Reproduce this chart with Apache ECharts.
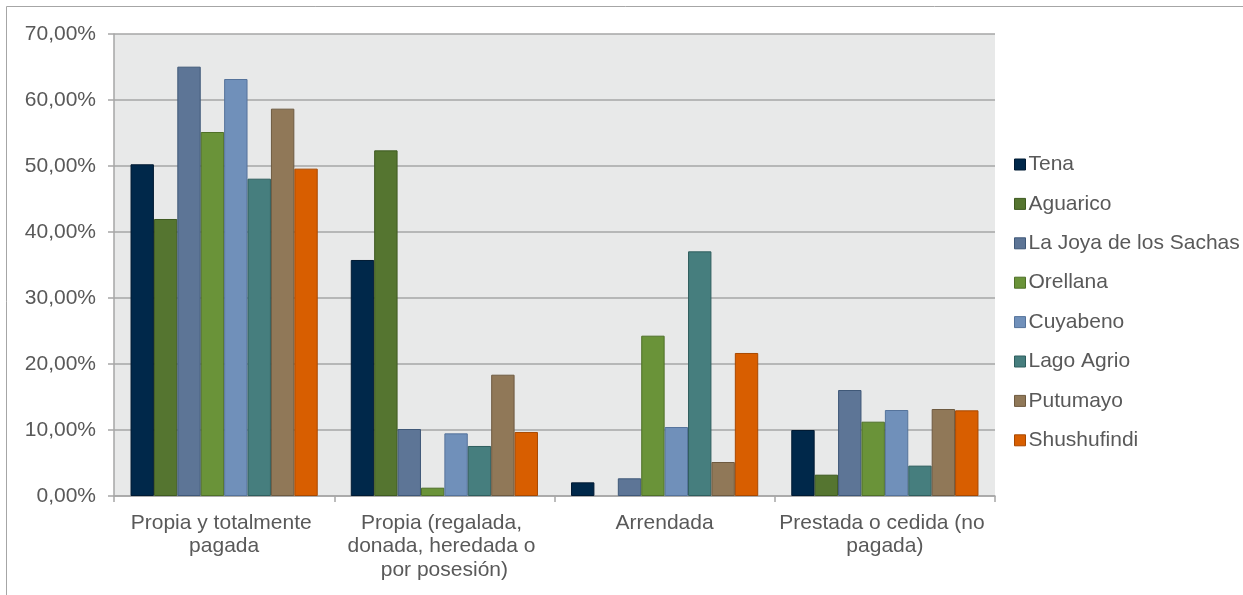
<!DOCTYPE html>
<html>
<head>
<meta charset="utf-8">
<script src="https://cdn.jsdelivr.net/npm/echarts@6/dist/echarts.min.js"></script>
<style>
html,body{margin:0;padding:0;background:#fff;}
#c{width:1243px;height:595px;}
</style>
</head>
<body>
<div id="c"></div>
<script>
var categories = ["Propia y totalmente pagada", "Propia (regalada, donada, heredada o por posesión)", "Arrendada", "Prestada o cedida (no pagada)"];
var seriesNames = ["Tena", "Aguarico", "La Joya de los Sachas", "Orellana", "Cuyabeno", "Lago Agrio", "Putumayo", "Shushufindi"];
var tena = [50.26, 35.76, 2.07, 10.00];
var aguarico = [41.97, 52.37, null, 3.23];
var laJoya = [65.05, 10.15, 2.68, 16.06];
var orellana = [55.15, 1.26, 24.29, 11.26];
var cuyabeno = [63.18, 9.49, 10.45, 13.03];
var lagoAgrio = [48.08, 7.58, 37.07, 4.60];
var putumayo = [58.69, 18.38, 5.15, 13.18];
var shushufindi = [49.60, 9.70, 21.67, 12.98];
var yTicks = [0, 10, 20, 30, 40, 50, 60, 70];

var values = [tena, aguarico, laJoya, orellana, cuyabeno, lagoAgrio, putumayo, shushufindi];
var colors = ["#00284a", "#557530", "#5d7596", "#6a9339", "#7090ba", "#467e7e", "#907858", "#d85e00"];
var borders = ["#001a33", "#3e5a20", "#3f5878", "#4f7028", "#55739b", "#2f5e5e", "#6e5a40", "#a84800"];

var chart = echarts.init(document.getElementById('c'));
var series = seriesNames.map(function (n, i) {
  return {
    name: n,
    type: 'bar',
    data: values[i],
    barGap: '0%',
    barCategoryGap: '15%',
    itemStyle: { color: colors[i], borderColor: borders[i], borderWidth: 1 }
  };
});

chart.setOption({
  animation: false,
  backgroundColor: '#ffffff',
  textStyle: { fontFamily: 'Liberation Sans, Arial, sans-serif' },
  graphic: [{
    type: 'rect',
    shape: { x: 6.5, y: 6.5, width: 1400, height: 800 },
    style: { fill: 'none', stroke: '#a6a6a6', lineWidth: 1 },
    silent: true
  }],
  grid: {
    left: 114, right: 248, top: 34, bottom: 99,
    show: true, backgroundColor: '#e8e9e9', borderWidth: 0
  },
  legend: {
    orient: 'vertical',
    left: 1014,
    top: 154,
    padding: 0,
    itemWidth: 11,
    itemHeight: 11,
    itemGap: 18.4,
    icon: 'rect',
    textStyle: { fontSize: 21, color: '#595959', padding: [0, 0, 0, -2], lineHeight: 21, fontFamily: 'Liberation Sans, Arial, sans-serif' },
    data: seriesNames.map(function (n, i) {
      return { name: n, itemStyle: { color: colors[i], borderColor: borders[i], borderWidth: 1 } };
    })
  },
  xAxis: {
    type: 'category',
    data: categories,
    axisLine: { lineStyle: { color: '#a6a6a6', width: 1.5 } },
    axisTick: { show: true, length: 6, lineStyle: { color: '#a6a6a6', width: 1.5 } },
    axisLabel: {
      fontSize: 21, color: '#595959', lineHeight: 23.5, margin: 15,
      width: 212, overflow: 'break', interval: 0,
      fontFamily: 'Liberation Sans, Arial, sans-serif'
    }
  },
  yAxis: {
    type: 'value',
    min: yTicks[0],
    max: yTicks[yTicks.length - 1],
    interval: 10,
    axisLine: { show: true, lineStyle: { color: '#a6a6a6', width: 1.5 } },
    axisTick: { show: true, length: 6, lineStyle: { color: '#a6a6a6', width: 1.5 } },
    splitLine: { show: true, lineStyle: { color: '#a6a6a6', width: 1.5 } },
    axisLabel: {
      fontSize: 21, color: '#595959', margin: 18,
      fontFamily: 'Liberation Sans, Arial, sans-serif',
      formatter: function (v) { return v.toFixed(2).replace('.', ',') + '%'; }
    }
  },
  series: series
});
</script>
</body>
</html>
